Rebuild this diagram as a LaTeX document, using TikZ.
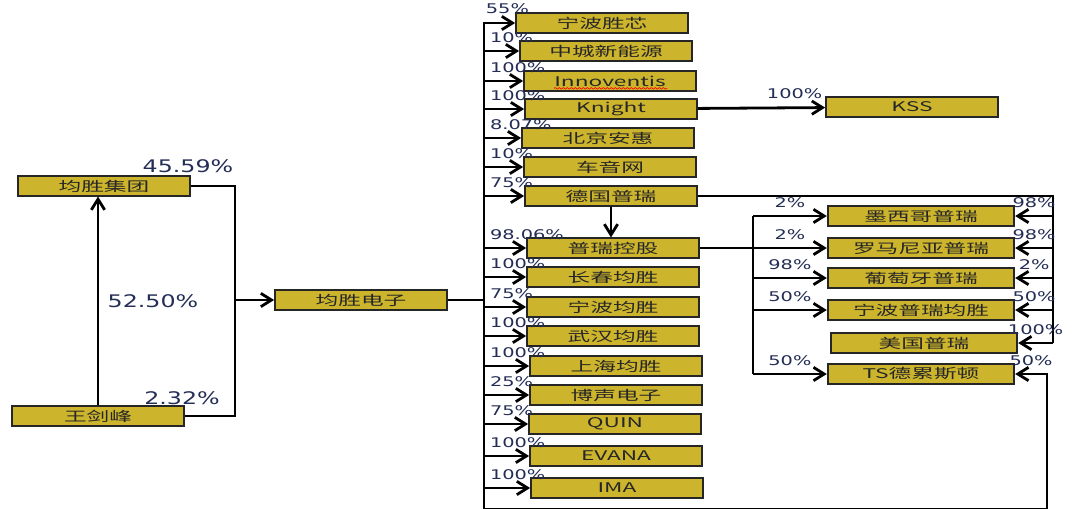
\documentclass[tikz,border=0pt]{standalone}
\usepackage{fontspec}
\setmainfont{DejaVu Sans}
\newfontfamily\cjk{Noto Sans CJK SC}
\usetikzlibrary{arrows.meta,decorations.pathmorphing}
\definecolor{boxgold}{RGB}{204,180,44}
\definecolor{pctblue}{RGB}{35,45,85}
\newcommand{\boxtxt}[1]{\scalebox{1.7}[1]{#1}}
\newcommand{\pcttxt}[1]{\scalebox{1.45}[1]{#1}}

\begin{document}
\begin{tikzpicture}[x=0.75pt,y=-0.75pt,
  box/.style={draw=black!85,fill=boxgold,line width=1.3pt,minimum width=129pt,minimum height=14.5pt,inner sep=0pt,font=\cjk\fontsize{10}{12}\selectfont,text=black!85},
  wbox/.style={box,minimum width=140pt},
  pct/.style={text=pctblue,font=\fontsize{10}{12}\selectfont,inner sep=0.5pt},
  bigpct/.style={text=pctblue,font=\fontsize{13}{15}\selectfont,inner sep=0pt},
  bl/.style={pct,pos=0,anchor=south west,xshift=3pt,yshift=5pt},
  ml/.style={pct,midway,above=5pt},
  ln/.style={line width=2.1pt},
  arr/.style={ln,-{Straight Barb[length=8pt,width=10pt]}}]
\useasboundingbox (0,0) rectangle (1083,508);

% shareholders
\node[box] (jsjt) at (104,186) {\boxtxt{均胜集团}};
\node[box] (wjf) at (98,416) {\boxtxt{王剑峰}};
\node[box] (jsdz) at (361,300) {\boxtxt{均胜电子}};
\node[bigpct] (p1) at (188,166) {\scalebox{1.37}[1]{45.59\%}};
\node[bigpct] (p2) at (153,301) {\scalebox{1.37}[1]{52.50\%}};
\node[bigpct] (p3) at (182,398) {\scalebox{1.37}[1]{2.32\%}};

\draw[arr] (wjf.north) -- (wjf.north |- jsjt.south);
\coordinate (jn) at (235,300);
\draw[ln] (jsjt.east) -| (jn) |- (wjf.east);
\draw[arr] (jn) -- (jsdz);

% subsidiaries of 均胜电子
\node[box] (nbsx) at (602,23) {\boxtxt{宁波胜芯}};
\node[box] (zc) at (606,51) {\boxtxt{中城新能源}};
\node[box] (inno) at (610,81) {\boxtxt{Innoventis}};
\node[box] (knight) at (611,109) {\boxtxt{Knight}};
\node[box] (bjah) at (608,138) {\boxtxt{北京安惠}};
\node[box] (cyw) at (610,167) {\boxtxt{车音网}};
\node[box] (dgpr) at (611,196) {\boxtxt{德国普瑞}};
\node[box] (prkg) at (613,248) {\boxtxt{普瑞控股}};
\node[box] (ccjs) at (613,277) {\boxtxt{长春均胜}};
\node[box] (nbjs) at (613,307) {\boxtxt{宁波均胜}};
\node[box] (whjs) at (613,336) {\boxtxt{武汉均胜}};
\node[box] (shjs) at (616,366) {\boxtxt{上海均胜}};
\node[box] (bsdz) at (616,395) {\boxtxt{博声电子}};
\node[box] (quin) at (615,424) {\boxtxt{QUIN}};
\node[box] (evana) at (616,456) {\boxtxt{EVANA}};
\node[box] (ima) at (617,488) {\boxtxt{IMA}};
\draw[red,line width=0.5pt,decorate,decoration={snake,amplitude=0.6pt,segment length=3pt}]
  ([xshift=-42pt,yshift=-5.5pt]inno.center) -- ([xshift=43pt,yshift=-5.5pt]inno.center);

\coordinate (bt) at (484,23);
\coordinate (bb) at (484,509.5);
\draw[ln] (jsdz) -- (bt |- jsdz);
\draw[arr] (bb) -- (bt) -- (nbsx);
\node[pct,anchor=south west] (p4) at (485,15) {\pcttxt{55\%}};
\draw[arr] (bt |- zc) -- node[bl]{\pcttxt{10\%}} (zc);
\draw[arr] (bt |- inno) -- node[bl]{\pcttxt{100\%}} (inno);
\draw[arr] (bt |- knight) -- node[bl]{\pcttxt{100\%}} (knight);
\draw[arr] (bt |- bjah) -- node[bl]{\pcttxt{8.07\%}} (bjah);
\draw[arr] (bt |- cyw) -- node[bl]{\pcttxt{10\%}} (cyw);
\draw[arr] (bt |- dgpr) -- node[bl]{\pcttxt{75\%}} (dgpr);
\draw[arr] (bt |- prkg) -- node[bl]{\pcttxt{98.06\%}} (prkg);
\draw[arr] (bt |- ccjs) -- node[bl]{\pcttxt{100\%}} (ccjs);
\draw[arr] (bt |- nbjs) -- node[bl]{\pcttxt{75\%}} (nbjs);
\draw[arr] (bt |- whjs) -- node[bl]{\pcttxt{100\%}} (whjs);
\draw[arr] (bt |- shjs) -- node[bl]{\pcttxt{100\%}} (shjs);
\draw[arr] (bt |- bsdz) -- node[bl]{\pcttxt{25\%}} (bsdz);
\draw[arr] (bt |- quin) -- node[bl]{\pcttxt{75\%}} (quin);
\draw[arr] (bt |- evana) -- node[bl]{\pcttxt{100\%}} (evana);
\draw[arr] (bt |- ima) -- node[bl]{\pcttxt{100\%}} (ima);

% KSS
\node[box] (kss) at (912,107) {\boxtxt{KSS}};
\draw[arr] (knight) -- node[pct,pos=0.76,above=5pt]{\pcttxt{100\%}} (kss);

% 普瑞 group
\node[wbox] (mx) at (921,216) {\boxtxt{墨西哥普瑞}};
\node[wbox] (lm) at (921,248) {\boxtxt{罗马尼亚普瑞}};
\node[wbox] (pty) at (921,278) {\boxtxt{葡萄牙普瑞}};
\node[wbox] (nbpr) at (921,310) {\boxtxt{宁波普瑞均胜}};
\node[wbox] (mg) at (924,343) {\boxtxt{美国普瑞}};
\node[wbox] (ts) at (921,374) {\boxtxt{TS德累斯顿}};

\draw[arr] (dgpr.south) -- (dgpr.south |- prkg.north);

\coordinate (lt) at (753,216);
\coordinate (lb) at (753,374);
\draw[ln] (prkg) -- (lt |- prkg);
\draw[ln] (lt) -- (lb);
\draw[arr] (lt) -- node[ml]{\pcttxt{2\%}} (mx);
\draw[arr] (lt |- lm) -- node[ml]{\pcttxt{2\%}} (lm);
\draw[arr] (lt |- pty) -- node[ml]{\pcttxt{98\%}} (pty);
\draw[arr] (lt |- nbpr) -- node[ml]{\pcttxt{50\%}} (nbpr);
\draw[arr] (lb) -- node[ml]{\pcttxt{50\%}} (ts);

\coordinate (rt) at (1053,196);
\coordinate (rb) at (1053,343);
\draw[ln] (dgpr) -- (rt) -- (rb);
\draw[arr] (rt |- mx) -- node[ml]{\pcttxt{98\%}} (mx);
\draw[arr] (rt |- lm) -- node[ml]{\pcttxt{98\%}} (lm);
\draw[arr] (rt |- pty) -- node[ml]{\pcttxt{2\%}} (pty);
\draw[arr] (rt |- nbpr) -- node[ml]{\pcttxt{50\%}} (nbpr);
\draw[arr] (rb) -- node[ml]{\pcttxt{100\%}} (mg);

\coordinate (tb) at (1047,509.5);
\draw[ln] (bb) -- (tb);
\draw[arr] (tb) |- node[pct,pos=0.75,above=5pt]{\pcttxt{50\%}} (ts);
\end{tikzpicture}
\end{document}
